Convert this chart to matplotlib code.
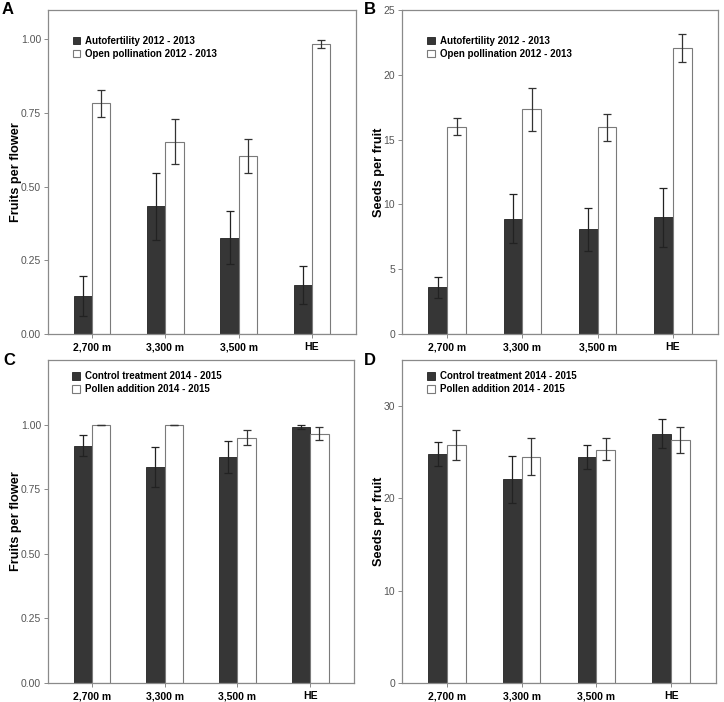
import numpy as np
import matplotlib
matplotlib.use('Agg')
import matplotlib.pyplot as plt

plt.rcParams['font.family'] = ['Liberation Sans', 'DejaVu Sans']

sites = ['2,700 m', '3,300 m', '3,500 m', 'HE']

# panel A - fruits per flower 2012-2013
a_auto = [0.128, 0.433, 0.327, 0.165]
a_auto_lo = [0.062, 0.318, 0.237, 0.102]
a_auto_hi = [0.196, 0.547, 0.418, 0.232]
a_open = [0.784, 0.653, 0.605, 0.986]
a_open_lo = [0.738, 0.578, 0.547, 0.972]
a_open_hi = [0.829, 0.729, 0.662, 0.998]

# panel B - seeds per fruit 2012-2013
b_auto = [3.6, 8.9, 8.08, 8.99]
b_auto_lo = [2.75, 7.03, 6.44, 6.72]
b_auto_hi = [4.4, 10.8, 9.73, 11.28]
b_open = [16.0, 17.33, 15.94, 22.06]
b_open_lo = [15.35, 15.7, 14.9, 20.98]
b_open_hi = [16.7, 18.98, 16.97, 23.17]

# panel C - fruits per flower 2014-2015
c_ctrl = [0.919, 0.835, 0.874, 0.991]
c_ctrl_lo = [0.879, 0.757, 0.811, 0.983]
c_ctrl_hi = [0.960, 0.915, 0.936, 0.999]
c_poll = [1.0, 1.0, 0.95, 0.965]
c_poll_lo = [1.0, 1.0, 0.920, 0.940]
c_poll_hi = [1.0, 1.0, 0.978, 0.990]

# panel D - seeds per fruit 2014-2015
d_ctrl = [24.8, 22.07, 24.45, 26.97]
d_ctrl_lo = [23.5, 19.47, 23.15, 25.5]
d_ctrl_hi = [26.1, 24.56, 25.75, 28.56]
d_poll = [25.75, 24.52, 25.3, 26.3]
d_poll_lo = [24.2, 22.54, 24.16, 24.9]
d_poll_hi = [27.37, 26.58, 26.5, 27.7]

leg1 = ['Autofertility 2012 - 2013', 'Open pollination 2012 - 2013']
leg2 = ['Control treatment 2014 - 2015', 'Pollen addition 2014 - 2015']

DARK = '#363636'
FRAME = '#8a8a8a'


def panel(rect, dark, dlo, dhi, white, wlo, whi, ylim, yticks, yfmt, ylabel, labels, legtop):
    ax = fig.add_axes(rect)
    x = np.arange(len(sites))
    w = 0.25
    d = np.array(dark); w_ = np.array(white)
    ax.bar(x - w / 2, d, w, color=DARK, edgecolor='#222222', linewidth=0.6, label=labels[0], zorder=2)
    ax.bar(x + w / 2, w_, w, color='white', edgecolor='#7a7a7a', linewidth=0.8, label=labels[1], zorder=2)
    ax.errorbar(x - w / 2, d, yerr=[d - np.array(dlo), np.array(dhi) - d], fmt='none',
                ecolor='#222222', elinewidth=0.9, capsize=3, capthick=0.9, zorder=3)
    ax.errorbar(x + w / 2, w_, yerr=[w_ - np.array(wlo), np.array(whi) - w_], fmt='none',
                ecolor='#333333', elinewidth=0.9, capsize=3, capthick=0.9, zorder=3)
    ax.set_xlim(-0.6, 3.6)
    ax.set_ylim(*ylim)
    ax.set_xticks(x)
    ax.set_xticklabels(sites, fontsize=7.5, fontweight='bold')
    ax.set_yticks(yticks)
    ax.set_yticklabels([yfmt % v for v in yticks], fontsize=7.5, color='#555555')
    ax.set_ylabel(ylabel, fontsize=9.2, fontweight='bold', labelpad=-1)
    for s in ax.spines.values():
        s.set_color(FRAME)
        s.set_linewidth(0.9)
    ax.tick_params(axis='both', length=3, width=0.7, color=FRAME, pad=2)
    ax.tick_params(axis='x', pad=3)
    ax.legend(loc='upper left', bbox_to_anchor=(0.08, legtop), frameon=False,
              prop={'weight': 'bold', 'size': 7}, handlelength=0.8, handleheight=0.8,
              handletextpad=0.5, labelspacing=0.3, borderpad=0, borderaxespad=0)
    return ax


fig = plt.figure(figsize=(7.24, 7.02), dpi=100)

panel([48 / 724, 1 - 334 / 702, 308 / 724, 324 / 702], a_auto, a_auto_lo, a_auto_hi,
      a_open, a_open_lo, a_open_hi, (0, 1.1), [0, 0.25, 0.5, 0.75, 1.0], '%.2f',
      'Fruits per flower', leg1, 0.92)
panel([402 / 724, 1 - 334 / 702, 316 / 724, 324 / 702], b_auto, b_auto_lo, b_auto_hi,
      b_open, b_open_lo, b_open_hi, (0, 25), [0, 5, 10, 15, 20, 25], '%d',
      'Seeds per fruit', leg1, 0.92)
panel([48 / 724, 1 - 683 / 702, 306 / 724, 323 / 702], c_ctrl, c_ctrl_lo, c_ctrl_hi,
      c_poll, c_poll_lo, c_poll_hi, (0, 1.25), [0, 0.25, 0.5, 0.75, 1.0], '%.2f',
      'Fruits per flower', leg2, 0.965)
panel([402 / 724, 1 - 683 / 702, 314 / 724, 323 / 702], d_ctrl, d_ctrl_lo, d_ctrl_hi,
      d_poll, d_poll_lo, d_poll_hi, (0, 35), [0, 10, 20, 30], '%d',
      'Seeds per fruit', leg2, 0.965)

for lt, (px, py) in zip('ABCD', [(2, 2), (364, 2), (3, 353), (364, 353)]):
    fig.text(px / 724, 1 - py / 702, lt, fontsize=12, fontweight='bold', ha='left', va='top')

fig.savefig('out.png', dpi=100)
